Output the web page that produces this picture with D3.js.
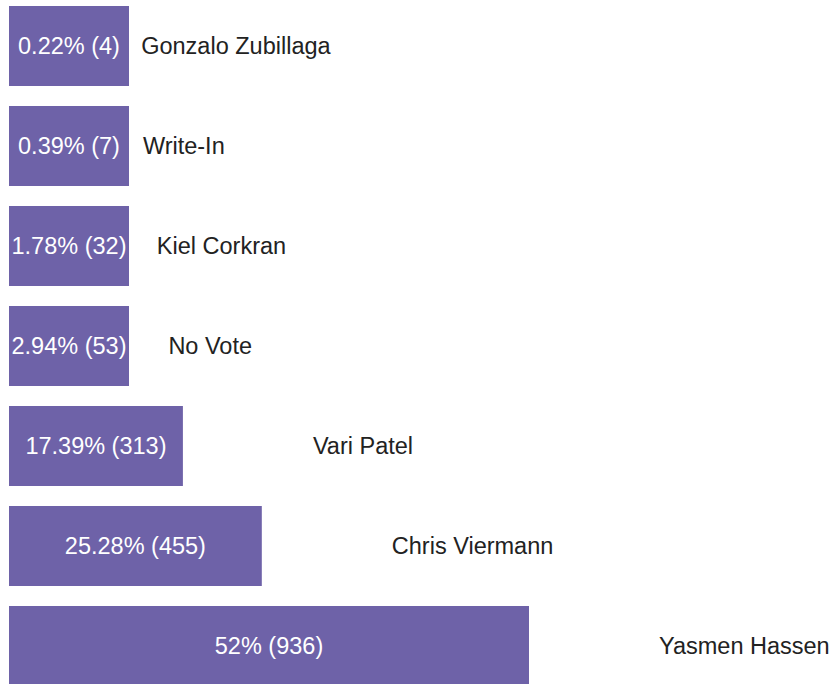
<!DOCTYPE html>
<html lang="en">
<head>
    <meta charset="UTF-8">
    <title>Vote Results</title>
    <script src="https://d3js.org/d3.v7.min.js"></script>
    <style>
        body {
            margin: 0;
            overflow: hidden;
            background: #fff;
        }
        .bar {
            fill: #6e62a8;
        }
        .value-label {
            font: 23.5px "Liberation Sans", Arial, sans-serif;
            fill: #fff;
            text-anchor: middle;
        }
        .name-label {
            font: 23.5px "Liberation Sans", Arial, sans-serif;
            fill: #222;
        }
    </style>
</head>
<body>
    <svg></svg>

    <script>
        // Candidates, top to bottom
        const candidates = ['Gonzalo Zubillaga', 'Write-In', 'Kiel Corkran', 'No Vote',
                            'Vari Patel', 'Chris Viermann', 'Yasmen Hassen'];
        const percents = [0.22, 0.39, 1.78, 2.94, 17.39, 25.28, 52];
        const votes = [4, 7, 32, 53, 313, 455, 936];

        const data = candidates.map((name, i) => ({name: name, pct: percents[i], votes: votes[i]}));

        const margin = {top: 0, left: 9},
              width = 836,
              height = 720,
              minBar = 120,
              labelGap = 130;

        const svg = d3.select("svg")
            .attr("width", width)
            .attr("height", height)
            .append("g")
            .attr("transform", "translate(" + margin.left + "," + margin.top + ")");

        const x = d3.scaleLinear()
            .domain([0, 100])
            .range([0, 1000]);

        const y = d3.scaleBand()
            .domain(candidates)
            .range([-4, 696])
            .paddingInner(0.2)
            .paddingOuter(0.1);

        const rows = svg.selectAll(".row")
            .data(data)
            .enter()
            .append("g")
            .attr("class", "row")
            .attr("transform", d => "translate(0," + y(d.name) + ")");

        rows.append("rect")
            .attr("class", "bar")
            .attr("x", 0)
            .attr("height", y.bandwidth())
            .attr("width", d => Math.max(x(d.pct), minBar));

        rows.append("text")
            .attr("class", "value-label")
            .attr("x", d => Math.max(x(d.pct), minBar) / 2)
            .attr("y", y.bandwidth() / 2)
            .attr("dy", "0.35em")
            .text(d => d.pct + "% (" + d.votes + ")");

        rows.append("text")
            .attr("class", "name-label")
            .attr("x", d => x(d.pct) + labelGap)
            .attr("y", y.bandwidth() / 2)
            .attr("dy", "0.35em")
            .text(d => d.name);
    </script>
</body>
</html>
